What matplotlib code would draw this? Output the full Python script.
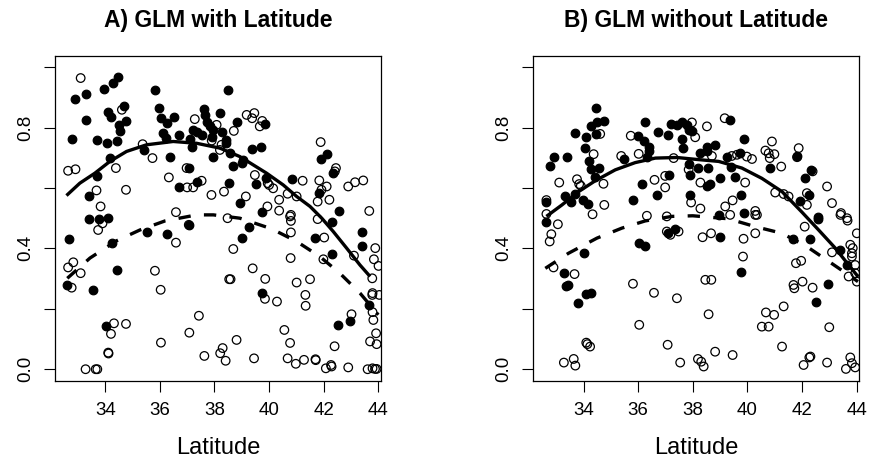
import matplotlib
matplotlib.use("Agg")
import matplotlib.pyplot as plt
import numpy as np

plt.rcParams['font.family'] = ['Liberation Sans', 'DejaVu Sans']

# ---------------- Panel A data ----------------
a_filled_lat = [34.45,34.28,33.96,33.29,32.89,35.82,38.50,34.10,34.20,34.70,33.29,34.76,34.50,34.54,
                32.77,33.68,34.07,34.44,35.97,36.03,36.25,36.53,36.13,36.23,36.71,37.10,37.16,
                35.43,36.37,34.17,33.68,37.06,36.70,37.35,33.40,38.55,
                37.63,37.66,38.22,37.72,37.84,37.96,37.20,37.35,37.53,37.90,38.26,37.93,38.44,
                38.81,39.85,38.44,38.57,39.38,39.72,39.04,38.69,39.00,41.89,42.13,42.35,39.89,39.52,40.83,
                38.93,39.75,41.84,42.57,
                33.41,33.78,34.09,37.06,32.67,34.23,35.54,36.25,32.61,34.44,33.54,34.01,
                39.26,39.00,42.29,41.68,43.41,43.41,42.29,39.75,43.67,42.96,42.51]
a_filled_val = [0.967,0.949,0.927,0.911,0.894,0.923,0.923,0.853,0.834,0.870,0.826,0.822,0.807,0.789,
                0.762,0.759,0.748,0.757,0.864,0.831,0.815,0.834,0.781,0.765,0.776,0.762,0.737,
                0.726,0.701,0.699,0.641,0.666,0.603,0.619,0.575,0.616,
                0.861,0.842,0.848,0.820,0.804,0.793,0.792,0.784,0.776,0.770,0.787,0.704,0.760,
                0.820,0.812,0.748,0.715,0.730,0.737,0.693,0.673,0.682,0.695,0.712,0.649,0.632,0.613,0.629,
                0.550,0.522,0.583,0.524,
                0.498,0.498,0.502,0.478,0.432,0.417,0.454,0.447,0.279,0.327,0.263,0.143,
                0.470,0.436,0.487,0.434,0.453,0.409,0.382,0.252,0.213,0.160,0.145]

a_open_lat = [33.10,34.61,35.37,35.73,34.39,32.64,32.91,36.33,36.98,37.00,37.22,37.53,34.76,33.68,33.83,
              36.59,37.89,38.35,37.28,38.08,38.26,38.20,37.90,
              39.18,39.38,39.46,39.66,39.75,38.71,41.89,42.45,42.41,39.48,40.00,39.95,40.15,41.23,41.84,
              42.11,42.90,43.15,43.45,39.15,39.94,40.37,40.68,41.01,40.37,40.80,41.92,41.78,42.21,43.67,
              33.90,33.74,37.06,38.48,36.59,32.83,32.64,33.10,32.77,35.82,36.03,38.54,37.43,34.32,34.76,
              34.21,37.08,36.04,34.11,34.12,37.63,38.30,38.21,38.41,33.28,33.65,33.71,
              38.69,40.80,40.77,40.80,41.78,42.02,41.99,43.11,43.89,43.84,44.01,43.78,40.79,39.40,38.59,
              39.86,41.01,41.50,39.85,40.29,41.33,41.34,43.78,43.79,44.04,43.79,43.82,43.02,40.56,43.92,
              43.94,43.70,40.77,42.40,38.81,39.45,40.68,40.98,41.28,41.70,41.71,42.08,42.27,42.29,42.90,
              43.61,43.79,43.88,43.94]
a_open_val = [0.964,0.859,0.745,0.699,0.666,0.657,0.662,0.635,0.666,0.602,0.602,0.624,0.594,0.592,0.539,
              0.520,0.577,0.588,0.828,0.809,0.743,0.726,0.757,
              0.842,0.831,0.848,0.804,0.822,0.789,0.752,0.666,0.655,0.643,0.610,0.616,0.599,0.624,0.625,
              0.605,0.605,0.619,0.625,0.572,0.539,0.561,0.581,0.572,0.525,0.511,0.594,0.555,0.561,0.524,
              0.483,0.461,0.478,0.500,0.419,0.354,0.337,0.318,0.270,0.326,0.263,0.298,0.177,0.152,0.150,
              0.117,0.121,0.088,0.055,0.052,0.044,0.070,0.053,0.028,0.000,0.000,0.000,
              0.398,0.491,0.506,0.453,0.497,0.436,0.364,0.376,0.401,0.364,0.342,0.301,0.368,0.334,0.298,
              0.299,0.287,0.298,0.233,0.224,0.246,0.210,0.246,0.252,0.246,0.189,0.163,0.182,0.130,0.119,
              0.083,0.092,0.087,0.076,0.097,0.036,0.036,0.018,0.031,0.033,0.030,0.003,0.014,0.009,0.006,
              0.000,0.003,0.001,0.001]

a_solid_lat = [32.58,33.07,33.62,34.17,34.78,35.51,36.49,37.35,38.20,38.93,39.91,40.52,41.01,41.50,
               41.93,42.35,42.84,43.33,43.70]
a_solid_val = [0.575,0.616,0.649,0.688,0.721,0.743,0.754,0.748,0.732,0.704,0.649,0.610,0.572,0.539,
               0.500,0.456,0.401,0.345,0.307]
a_dash_lat = [32.61,33.44,34.41,35.27,36.19,37.35,37.96,38.93,40.09,41.01,41.86,42.59,43.33,44.00]
a_dash_val = [0.301,0.368,0.425,0.461,0.491,0.511,0.511,0.500,0.465,0.423,0.373,0.318,0.252,0.180]

# ---------------- Panel B data ----------------
b_filled_lat = [34.46,34.28,34.49,34.76,34.45,33.67,34.09,34.06,32.90,32.78,33.39,34.21,34.28,34.55,34.43,
                32.64,33.31,33.54,33.67,33.97,34.18,36.24,35.99,36.20,36.38,36.40,36.32,35.50,36.71,37.09,
                37.21,37.44,37.14,36.14,36.69,35.81,
                37.60,37.79,37.85,37.97,39.38,37.60,37.63,39.86,38.28,38.52,38.80,38.52,39.25,39.74,40.84,
                41.82,37.85,38.19,38.55,37.91,39.00,39.53,39.41,38.52,38.64,42.34,42.12,37.91,39.78,39.86,
                42.24,41.94,42.57,38.95,
                32.63,36.02,36.26,37.09,37.34,34.00,33.29,33.43,33.37,34.10,34.26,33.80,
                38.98,39.78,42.58,41.67,42.28,43.41,43.65,42.95,42.52]
b_filled_val = [0.864,0.804,0.817,0.822,0.778,0.781,0.768,0.734,0.702,0.673,0.704,0.688,0.662,0.666,0.638,
                0.555,0.572,0.553,0.581,0.561,0.547,0.820,0.773,0.757,0.737,0.721,0.701,0.696,0.784,0.776,
                0.812,0.807,0.643,0.614,0.577,0.559,
                0.817,0.809,0.792,0.789,0.826,0.762,0.734,0.762,0.717,0.737,0.743,0.723,0.702,0.717,0.666,
                0.706,0.680,0.666,0.666,0.643,0.632,0.636,0.671,0.605,0.613,0.660,0.632,0.577,0.577,0.517,
                0.577,0.557,0.503,0.511,
                0.489,0.419,0.408,0.450,0.465,0.384,0.318,0.279,0.274,0.248,0.252,0.219,
                0.437,0.323,0.498,0.430,0.430,0.395,0.345,0.283,0.222]

b_open_lat = [34.61,34.37,33.76,33.84,33.90,33.11,34.73,32.64,34.76,32.64,34.33,35.73,35.38,36.02,37.30,
              36.60,36.99,36.99,36.32,37.05,
              37.97,38.52,38.09,39.17,40.90,38.70,39.43,39.62,39.98,40.17,40.66,40.78,40.82,40.99,41.24,
              41.88,41.82,37.85,38.28,39.92,42.39,42.92,39.46,39.19,40.29,40.29,41.02,41.33,41.51,42.18,
              42.18,43.10,43.43,43.65,38.28,39.37,37.94,
              33.06,32.82,32.76,37.05,37.18,32.90,33.67,35.81,36.58,37.42,36.04,34.10,34.14,34.24,37.08,
              33.28,33.64,33.70,37.54,
              37.48,38.36,38.67,39.86,40.29,39.84,38.46,38.68,38.58,40.35,42.10,43.41,43.67,44.01,43.10,
              41.78,41.97,43.77,43.86,43.83,43.83,43.95,43.71,43.95,44.01,41.69,41.72,42.02,42.39,41.33,
              40.68,40.98,40.53,40.78,43.00,41.27,38.19,38.31,38.40,38.82,39.46,42.06,42.27,42.31,42.92,
              43.77,43.83,43.95,43.61]
b_open_val = [0.779,0.712,0.629,0.613,0.607,0.618,0.614,0.560,0.544,0.514,0.513,0.773,0.706,0.713,0.699,
              0.627,0.640,0.602,0.508,0.506,
              0.817,0.804,0.768,0.831,0.754,0.706,0.706,0.710,0.704,0.696,0.724,0.715,0.699,0.712,0.671,
              0.732,0.702,0.661,0.618,0.618,0.655,0.605,0.559,0.539,0.524,0.511,0.585,0.580,0.572,0.583,
              0.544,0.550,0.517,0.500,0.532,0.511,0.552,
              0.480,0.447,0.423,0.456,0.445,0.337,0.315,0.283,0.253,0.235,0.147,0.088,0.083,0.075,0.081,
              0.022,0.034,0.012,0.022,
              0.456,0.437,0.450,0.432,0.450,0.373,0.296,0.296,0.182,0.511,0.472,0.511,0.492,0.450,0.387,
              0.351,0.359,0.412,0.401,0.384,0.373,0.345,0.307,0.318,0.290,0.279,0.268,0.290,0.270,0.208,
              0.188,0.180,0.141,0.141,0.139,0.075,0.034,0.025,0.009,0.058,0.047,0.014,0.039,0.042,0.022,
              0.039,0.020,0.006,0.001]

b_solid_lat = [32.64,33.21,33.82,34.43,35.16,35.89,36.63,37.42,38.09,38.95,39.80,40.53,41.27,42.00,
               42.61,43.22,43.71,44.05]
b_solid_val = [0.506,0.544,0.588,0.624,0.660,0.684,0.699,0.701,0.695,0.688,0.666,0.632,0.588,0.520,
               0.461,0.401,0.345,0.307]
b_dash_lat = [32.60,33.45,34.49,35.40,36.26,37.24,38.00,39.31,40.29,41.27,42.18,42.98,43.71,44.05]
b_dash_val = [0.334,0.384,0.434,0.467,0.491,0.506,0.508,0.498,0.472,0.450,0.406,0.357,0.312,0.290]

titles = ["A) GLM with Latitude", "B) GLM without Latitude"]
xticks = [34, 36, 38, 40, 42, 44]
yticks = [0.0, 0.2, 0.4, 0.6, 0.8, 1.0]
ytick_labels = ["0.0", "", "0.4", "", "0.8", ""]
xlabel = "Latitude"

W, H = 870, 465
fig = plt.figure(figsize=(W / 100, H / 100), dpi=100)

panels = [
    (55.0, a_filled_lat, a_filled_val, a_open_lat, a_open_val, a_solid_lat, a_solid_val, a_dash_lat, a_dash_val),
    (533.3, b_filled_lat, b_filled_val, b_open_lat, b_open_val, b_solid_lat, b_solid_val, b_dash_lat, b_dash_val),
]

for i, (left, fl, fv, ol, ov, sl, sv, dl, dv) in enumerate(panels):
    ax = fig.add_axes([left / W, 1 - 380.7 / H, 326 / W, 325 / H])
    ax.scatter(ol, ov, s=38, facecolors='none', edgecolors='black', linewidths=0.9, zorder=2)
    ax.scatter(fl, fv, s=38, facecolors='black', edgecolors='black', linewidths=0.9, zorder=3)
    ax.plot(sl, sv, color='black', lw=2.4, solid_capstyle='butt', zorder=4)
    ax.plot(dl, dv, color='black', lw=2.4, dashes=(3.7, 4.0), dash_capstyle='butt', zorder=4)
    ax.set_xlim(32.16, 44.1)
    ax.set_ylim(-0.038, 1.038)
    ax.set_xticks(xticks)
    ax.set_xticklabels([str(t) for t in xticks])
    ax.set_yticks(yticks)
    ax.set_yticklabels(ytick_labels)
    ax.tick_params(axis='both', direction='out', length=8, width=0.8, labelsize=13.5, pad=7)
    ax.tick_params(axis='y', labelrotation=90)
    for lab in ax.get_yticklabels():
        lab.set_va('center')
    for sp in ax.spines.values():
        sp.set_linewidth(0.9)
    cx = (left + 163) / W
    fig.text(cx, 1 - 27 / H, titles[i], ha='center', va='baseline', fontsize=16.5, fontweight='bold')
    fig.text(cx, 1 - 448 / H, xlabel, ha='center', va='center', fontsize=17)

fig.savefig("out.png", dpi=100)
